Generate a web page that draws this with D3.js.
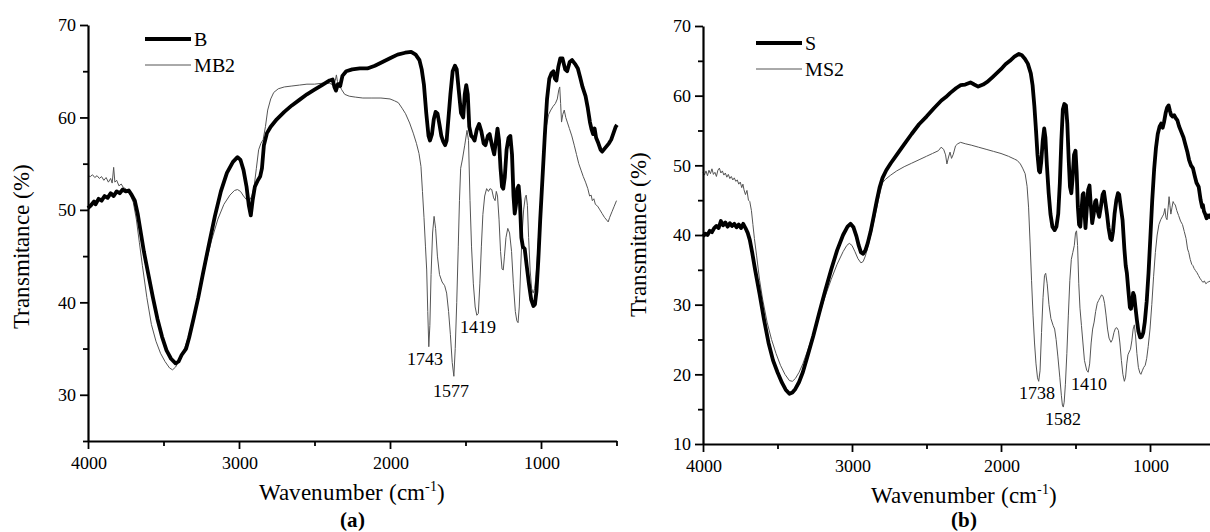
<!DOCTYPE html>
<html>
<head>
<meta charset="utf-8">
<script src="https://cdn.jsdelivr.net/npm/d3@7"></script>
<style>
  body { margin: 0; background: #fff; }
  @font-face { font-family: 'PlotSerif'; src: local('Liberation Serif'), local('LiberationSerif-Regular'), local('LiberationSerif'); }
  @font-face { font-family: 'PlotSerif'; font-weight: bold; src: local('Liberation Serif Bold'), local('LiberationSerif-Bold'); }
</style>
</head>
<body>
<div class="chart"></div>
<script>

// ---- data: [wavenumber (cm-1), transmittance (%)] ----

const seriesB = [
[4000,50.2],[3980,50.5],[3960,50.9],[3950,50.6],[3930,51.2],[3910,51.0],[3890,51.5],[3870,51.3],[3850,51.8],[3830,51.5],
[3810,52.0],[3790,51.8],[3770,52.2],[3750,52.0],[3730,52.1],[3710,51.6],[3690,51.0],[3670,49.5],[3650,47.5],[3630,45.5],
[3600,43.0],[3570,40.5],[3540,38.2],[3510,36.3],[3480,34.8],[3450,33.9],[3420,33.4],[3400,33.6],[3380,34.3],[3350,35.0],
[3330,36.2],[3300,38.3],[3270,40.5],[3240,43.0],[3200,46.2],[3160,49.3],[3120,52.0],[3080,54.0],[3040,55.2],[3010,55.7],
[2990,55.4],[2970,54.3],[2950,52.5],[2935,50.5],[2922,49.4],[2910,51.0],[2895,52.5],[2875,53.2],[2860,53.6],[2848,54.5],
[2835,57.0],[2815,58.3],[2790,59.0],[2750,59.8],[2700,60.6],[2650,61.3],[2600,61.9],[2550,62.5],[2500,63.0],[2450,63.5],
[2400,64.0],[2380,64.1],[2368,63.3],[2358,62.9],[2345,63.6],[2330,63.4],[2315,64.5],[2290,65.0],[2250,65.2],[2200,65.3],
[2150,65.3],[2100,65.6],[2050,66.0],[2000,66.4],[1950,66.8],[1900,67.0],[1860,67.1],[1830,66.8],[1805,66.2],[1790,65.2],
[1775,63.5],[1760,60.5],[1745,58.0],[1735,57.5],[1722,58.2],[1710,59.8],[1698,60.6],[1685,60.4],[1672,59.2],[1660,58.0],
[1648,57.4],[1635,57.0],[1625,57.5],[1615,59.5],[1600,62.5],[1585,65.0],[1570,65.6],[1558,65.2],[1545,63.0],[1530,60.5],
[1515,60.0],[1505,62.5],[1495,63.5],[1485,62.5],[1475,59.0],[1462,58.0],[1450,57.8],[1440,57.5],[1425,58.7],[1410,59.3],
[1395,58.5],[1380,57.2],[1368,57.0],[1352,58.0],[1340,58.2],[1325,57.0],[1310,56.0],[1298,57.5],[1288,58.8],[1278,57.5],
[1268,54.5],[1258,52.5],[1250,52.3],[1240,53.5],[1228,56.5],[1215,57.8],[1203,58.0],[1192,56.0],[1182,51.5],[1174,49.6],
[1166,50.5],[1157,52.3],[1148,52.6],[1140,51.0],[1130,47.0],[1120,46.0],[1108,45.8],[1095,44.0],[1080,42.0],[1065,40.3],
[1050,39.6],[1040,39.8],[1030,41.2],[1018,44.5],[1005,49.0],[990,53.5],[975,58.0],[960,62.0],[945,64.2],[930,64.8],
[918,65.0],[908,64.2],[898,64.0],[885,65.5],[872,66.4],[858,66.4],[840,65.2],[827,65.0],[810,66.0],[794,66.2],
[775,65.8],[756,65.3],[740,64.3],[725,63.3],[705,62.3],[690,61.0],[676,59.5],[665,58.7],[655,58.2],[645,58.8],
[635,57.8],[620,57.2],[605,56.5],[595,56.3],[580,56.6],[565,56.9],[550,57.2],[535,57.6],[520,58.3],[505,59.0],[497,59.2]
]

const seriesMB2 = [
[4000,53.7],[3985,53.6],[3970,53.8],[3955,53.5],[3940,53.7],[3925,53.4],[3910,53.6],[3895,53.2],[3880,53.5],[3865,53.0],
[3850,53.4],[3840,52.9],[3830,54.6],[3822,53.0],[3810,53.2],[3795,52.6],[3780,52.8],[3765,52.4],[3750,52.3],[3735,52.0],
[3720,51.6],[3700,50.8],[3680,49.0],[3660,46.5],[3640,44.0],[3610,40.5],[3580,37.6],[3550,35.8],[3520,34.5],[3490,33.6],
[3460,32.9],[3440,32.7],[3420,33.0],[3400,33.6],[3370,34.6],[3340,36.0],[3300,38.5],[3260,41.3],[3220,44.2],[3180,46.8],
[3140,49.0],[3100,50.6],[3060,51.6],[3030,52.1],[3010,52.2],[2990,52.0],[2970,51.5],[2950,51.1],[2935,50.9],[2915,51.5],
[2900,52.5],[2885,54.5],[2870,56.5],[2855,57.2],[2840,57.6],[2825,59.0],[2810,60.8],[2790,62.0],[2770,62.7],[2740,63.1],
[2700,63.3],[2650,63.4],[2600,63.5],[2550,63.6],[2500,63.6],[2450,63.7],[2400,63.7],[2375,63.5],[2362,64.0],[2355,64.6],
[2348,63.9],[2338,63.6],[2320,63.0],[2300,62.5],[2270,62.3],[2230,62.2],[2180,62.1],[2120,62.1],[2060,62.1],[2000,62.0],
[1970,61.8],[1945,61.6],[1920,61.0],[1897,60.4],[1870,59.4],[1846,58.3],[1825,57.2],[1808,56.1],[1795,54.7],[1785,52.0],
[1775,49.2],[1765,46.0],[1757,43.5],[1750,39.0],[1743,35.2],[1736,37.5],[1728,43.0],[1718,47.5],[1708,49.3],[1698,48.0],
[1686,45.0],[1672,43.0],[1655,42.2],[1638,41.8],[1625,41.0],[1612,39.0],[1600,36.5],[1588,33.5],[1577,32.0],[1568,35.0],
[1558,40.0],[1548,46.0],[1540,51.0],[1532,54.5],[1520,55.5],[1505,57.0],[1490,58.6],[1480,57.5],[1470,51.0],[1460,46.0],
[1448,42.0],[1436,39.5],[1425,38.6],[1415,38.8],[1405,42.0],[1395,46.0],[1385,49.5],[1373,51.5],[1360,52.3],[1348,52.0],
[1338,52.3],[1326,52.2],[1314,51.3],[1304,51.0],[1296,52.0],[1288,51.5],[1278,49.0],[1268,45.5],[1258,43.6],[1250,43.5],
[1242,45.0],[1232,47.0],[1220,48.0],[1208,47.5],[1195,45.5],[1183,42.0],[1170,39.0],[1160,38.0],[1152,37.8],[1144,39.5],
[1135,43.5],[1125,47.5],[1115,50.0],[1105,51.3],[1098,51.6],[1090,50.5],[1082,47.0],[1072,43.5],[1062,41.5],[1052,41.0],
[1042,41.5],[1032,43.0],[1020,46.0],[1008,49.5],[995,53.0],[980,56.5],[965,59.0],[950,60.3],[935,60.8],[920,61.2],
[905,61.5],[892,62.0],[882,63.0],[876,63.3],[870,61.5],[864,59.5],[856,60.3],[846,60.8],[836,60.0],[826,59.5],
[812,58.8],[796,58.0],[780,57.0],[765,56.0],[750,55.0],[735,54.3],[720,53.6],[705,53.0],[690,52.3],[678,51.5],
[668,51.6],[660,51.0],[650,51.2],[640,50.6],[625,50.4],[610,50.0],[595,49.6],[580,49.2],[565,48.9],[555,48.7],
[545,49.2],[530,49.8],[515,50.4],[500,51.0]
]

const seriesS = [
[4000,39.8],[3985,40.2],[3970,40.0],[3955,40.6],[3940,40.4],[3925,41.0],[3910,41.3],[3895,41.0],[3880,42.0],[3865,41.4],
[3850,41.8],[3835,41.2],[3820,41.7],[3805,41.3],[3790,41.6],[3775,41.1],[3760,41.5],[3745,41.0],[3730,41.6],[3715,41.0],
[3700,40.3],[3686,39.3],[3670,37.5],[3650,35.0],[3620,31.5],[3590,27.8],[3560,24.5],[3530,22.0],[3500,20.3],[3470,18.8],
[3445,17.8],[3420,17.2],[3400,17.4],[3380,17.9],[3355,18.9],[3330,20.3],[3300,22.5],[3260,25.5],[3220,28.8],[3180,32.0],
[3140,35.0],[3100,37.8],[3060,40.0],[3030,41.2],[3010,41.6],[2990,41.1],[2970,39.8],[2955,38.5],[2940,37.5],[2925,37.3],
[2910,37.8],[2895,38.8],[2875,40.5],[2855,42.6],[2835,44.8],[2815,46.8],[2795,48.2],[2770,49.3],[2740,50.3],[2700,51.5],
[2650,53.0],[2600,54.5],[2550,55.9],[2500,57.0],[2450,58.2],[2400,59.3],[2370,59.8],[2340,60.4],[2300,61.1],[2270,61.5],
[2240,61.6],[2205,61.9],[2180,61.6],[2153,61.3],[2120,61.6],[2090,62.0],[2060,62.6],[2030,63.2],[2000,63.8],[1970,64.5],
[1940,65.0],[1910,65.6],[1880,66.0],[1860,65.8],[1840,65.3],[1820,64.6],[1800,63.2],[1788,61.5],[1776,58.5],[1765,55.0],
[1755,51.5],[1745,49.2],[1738,49.0],[1730,50.5],[1720,53.5],[1710,55.3],[1702,54.0],[1692,50.0],[1680,46.0],[1668,43.0],
[1655,41.2],[1640,40.7],[1628,41.2],[1616,43.0],[1605,47.5],[1595,53.5],[1585,58.0],[1575,58.8],[1564,58.6],[1555,56.0],
[1545,50.5],[1537,46.9],[1528,46.0],[1520,48.0],[1510,51.5],[1500,52.1],[1492,49.0],[1484,44.0],[1476,41.5],[1468,41.2],
[1460,43.5],[1452,45.8],[1446,46.0],[1440,43.5],[1433,41.0],[1425,43.5],[1415,46.5],[1406,47.1],[1398,44.5],[1388,41.7],
[1378,43.0],[1368,44.8],[1362,45.0],[1352,43.5],[1341,42.6],[1330,44.0],[1318,45.8],[1309,46.2],[1298,44.5],[1288,42.9],
[1278,41.0],[1266,39.5],[1257,39.3],[1248,40.5],[1238,43.0],[1226,45.0],[1215,46.0],[1207,45.8],[1196,44.0],[1184,42.1],
[1172,38.0],[1163,35.6],[1155,34.5],[1145,32.0],[1135,29.6],[1128,29.4],[1120,30.3],[1113,31.7],[1106,31.3],[1097,29.5],
[1088,27.8],[1078,26.2],[1066,25.3],[1055,25.4],[1045,26.0],[1035,27.5],[1022,30.5],[1010,34.5],[998,39.5],[985,45.0],
[972,49.5],[960,52.5],[948,54.5],[935,55.6],[925,56.0],[915,55.4],[905,56.3],[895,57.5],[885,58.3],[875,58.6],
[866,57.8],[858,57.2],[848,57.0],[838,57.2],[828,56.8],[817,56.5],[805,55.6],[790,54.8],[775,54.0],[764,53.1],
[750,52.0],[738,50.8],[725,50.0],[712,49.6],[700,48.5],[688,47.5],[673,46.9],[660,45.0],[650,44.0],[645,44.3],
[638,43.4],[628,42.9],[620,42.4],[610,42.8],[600,42.6],[590,43.0]
]

const seriesMS2 = [
[4000,49.0],[3990,48.6],[3980,49.2],[3970,48.5],[3960,49.3],[3950,48.8],[3940,49.5],[3930,48.7],[3920,49.0],[3910,48.4],
[3900,49.3],[3890,49.6],[3880,48.9],[3870,49.2],[3860,48.6],[3850,48.9],[3840,48.3],[3830,48.7],[3820,48.1],[3810,48.4],
[3800,47.9],[3790,48.2],[3780,47.7],[3770,47.9],[3760,47.3],[3750,47.6],[3740,46.8],[3732,47.3],[3725,46.5],[3715,45.8],
[3705,46.4],[3695,45.0],[3686,44.8],[3675,43.5],[3665,41.5],[3655,39.5],[3640,37.0],[3620,33.5],[3600,30.8],[3570,27.5],
[3540,25.0],[3510,23.0],[3480,21.3],[3450,20.0],[3420,19.1],[3400,19.0],[3380,19.4],[3355,20.3],[3330,21.5],[3300,23.3],
[3260,25.8],[3220,28.5],[3180,31.2],[3140,33.6],[3100,35.8],[3060,37.6],[3035,38.5],[3018,38.8],[3000,38.5],[2980,37.6],
[2960,36.6],[2940,36.0],[2925,36.2],[2910,37.0],[2890,38.6],[2865,40.8],[2840,43.3],[2815,45.8],[2795,47.5],[2775,48.0],
[2740,48.6],[2700,49.2],[2650,49.8],[2600,50.3],[2550,50.8],[2500,51.3],[2460,51.7],[2420,52.1],[2402,52.6],[2385,52.3],
[2372,51.5],[2363,50.2],[2352,51.2],[2342,51.9],[2332,51.0],[2320,51.6],[2305,52.8],[2290,53.1],[2271,53.3],[2240,53.1],
[2200,52.9],[2150,52.6],[2100,52.3],[2050,52.0],[2000,51.7],[1950,51.3],[1910,50.9],[1891,50.7],[1870,50.2],[1855,49.6],
[1838,48.8],[1825,47.0],[1815,44.0],[1805,39.0],[1795,33.5],[1785,28.5],[1775,24.5],[1765,21.5],[1755,19.5],[1747,19.0],
[1738,20.5],[1728,26.0],[1718,31.0],[1708,34.2],[1700,34.5],[1690,33.0],[1678,30.0],[1665,28.0],[1650,27.0],[1640,26.5],
[1630,25.0],[1618,22.5],[1605,19.5],[1595,17.0],[1588,15.6],[1582,15.3],[1576,16.0],[1568,18.5],[1558,23.0],[1548,28.5],
[1538,33.5],[1528,36.5],[1518,37.5],[1508,38.5],[1500,40.3],[1493,40.6],[1486,38.5],[1478,33.0],[1470,29.5],[1460,27.0],
[1450,24.5],[1440,22.0],[1425,20.6],[1415,20.3],[1405,21.5],[1395,24.5],[1385,26.5],[1375,27.5],[1365,29.0],[1354,30.2],
[1345,30.6],[1335,31.0],[1325,31.4],[1315,31.2],[1305,30.2],[1295,28.5],[1285,26.5],[1275,25.2],[1262,24.6],[1252,25.0],
[1242,26.0],[1232,26.6],[1223,26.7],[1212,26.3],[1202,24.5],[1192,22.0],[1182,20.0],[1172,19.0],[1164,19.6],[1156,21.5],
[1148,22.8],[1140,23.2],[1131,23.6],[1122,24.8],[1113,26.5],[1105,27.1],[1097,25.5],[1088,23.0],[1078,21.0],[1068,20.2],
[1061,20.0],[1052,20.5],[1042,21.0],[1032,21.3],[1022,22.3],[1012,24.0],[1000,26.5],[988,30.0],[976,34.0],[964,37.5],
[952,40.0],[940,41.5],[928,42.2],[918,42.6],[908,43.0],[900,43.8],[893,42.5],[886,42.2],[878,44.0],[872,45.5],
[866,44.2],[860,43.0],[852,44.0],[845,44.8],[838,44.5],[830,44.3],[820,43.5],[808,42.8],[795,42.0],[782,41.5],
[770,40.5],[758,39.5],[748,38.0],[740,37.5],[730,36.5],[720,35.8],[712,35.6],[704,35.2],[695,34.9],[685,34.6],
[675,34.2],[665,33.8],[655,33.5],[645,33.2],[635,33.4],[625,33.0],[615,33.2],[605,33.3],[595,33.4]
]

const xTicks = [4000, 3000, 2000, 1000]
const xMinor = [3500, 2500, 1500, 500]
const yTicksA = [30, 40, 50, 60, 70]
const yMinorA = [25, 35, 45, 55, 65]
const yTicksB = [10, 20, 30, 40, 50, 60, 70]
const yMinorB = [15, 25, 35, 45, 55, 65]

const legendA = ['B', 'MB2']
const legendB = ['S', 'MS2']

// peak labels: text, wavenumber and transmittance where the label sits
const peaksA = [['1743', 1768, 33.9], ['1577', 1596, 30.4], ['1419', 1417, 37.4]]
const peaksB = [['1738', 1758, 17.3], ['1582', 1584, 13.6], ['1410', 1409, 18.6]]

// ---- layout ----

const width = 1210
const height = 532
const serif = "PlotSerif, 'Liberation Serif', 'Times New Roman', Tinos, 'DejaVu Serif', 'Noto Serif', serif"

const panels = [
  { tag: '(a)', series: [seriesB, seriesMB2], legend: legendA, peaks: peaksA,
    yDomain: [25, 70], yTicks: yTicksA, yMinor: yMinorA,
    left: 88, right: 616.5, top: 25, bottom: 441,
    titleX: 21, titleY: 246, legendX: 145, legendY: 39 },
  { tag: '(b)', series: [seriesS, seriesMS2], legend: legendB, peaks: peaksB,
    yDomain: [10, 70], yTicks: yTicksB, yMinor: yMinorB,
    left: 703, right: 1224.5, top: 26, bottom: 444,
    titleX: 638, titleY: 234, legendX: 756, legendY: 43 }
]

const styles = [
  { stroke: '#000', width: 3.8 },
  { stroke: '#555', width: 1 }
]

const svg = d3.select('.chart')
  .append('svg')
  .attr('width', width)
  .attr('height', height)
  .style('font-family', serif)
  .style('display', 'block')

svg.append('rect')
  .attr('width', width)
  .attr('height', height)
  .attr('fill', '#fff')

panels.forEach(p => {

  const x = d3.scaleLinear().domain([4000, 500]).range([p.left, p.right])
  const y = d3.scaleLinear().domain(p.yDomain).range([p.bottom, p.top])

  const g = svg.append('g')

  const line = d3.line()
    .x(d => x(d[0]))
    .y(d => y(d[1]))

  // thin series first, bold on top
  p.series.slice().reverse().forEach((s, i) => {
    const st = styles[p.series.length - 1 - i]
    g.append('path')
      .datum(s)
      .attr('d', line)
      .attr('fill', 'none')
      .attr('stroke', st.stroke)
      .attr('stroke-width', st.width)
      .attr('stroke-linejoin', 'round')
  })

  // axes
  g.append('g')
    .attr('transform', `translate(0,${p.bottom})`)
    .call(d3.axisBottom(x).tickValues(xTicks).tickSize(8).tickPadding(7).tickSizeOuter(0).tickFormat(d3.format('d')))

  g.append('g')
    .attr('transform', `translate(0,${p.bottom})`)
    .call(d3.axisBottom(x).tickValues(xMinor).tickSize(5).tickFormat('').tickSizeOuter(0))
    .select('.domain').remove()

  g.append('g')
    .attr('transform', `translate(${p.left},0)`)
    .call(d3.axisLeft(y).tickValues(p.yTicks).tickSize(8).tickPadding(4).tickSizeOuter(0))

  g.append('g')
    .attr('transform', `translate(${p.left},0)`)
    .call(d3.axisLeft(y).tickValues(p.yMinor).tickSize(5).tickFormat('').tickSizeOuter(0))
    .select('.domain').remove()

  g.selectAll('g').attr('font-family', null)
  g.selectAll('.domain').attr('stroke-width', 2.2)
  g.selectAll('.tick line').attr('stroke-width', 1.8)
  g.selectAll('.tick text')
    .attr('font-size', 18)
    .attr('fill', '#000')

  // axis titles
  const cx = (p.left + p.right) / 2
  const xt = g.append('text')
    .attr('x', cx)
    .attr('y', p.bottom + 59)
    .attr('text-anchor', 'middle')
    .attr('font-size', 23)
  xt.append('tspan').text('Wavenumber (cm')
  xt.append('tspan').attr('font-size', 14).attr('dy', -9).text('-1')
  xt.append('tspan').attr('dy', 9).text(')')

  g.append('text')
    .attr('transform', `translate(${p.titleX},${p.titleY}) rotate(-90)`)
    .attr('text-anchor', 'middle')
    .attr('dy', '0.35em')
    .attr('font-size', 23)
    .text('Transmitance (%)')

  g.append('text')
    .attr('x', cx)
    .attr('y', 527)
    .attr('text-anchor', 'middle')
    .attr('font-size', 21)
    .attr('font-weight', 'bold')
    .text(p.tag)

  // legend
  p.legend.forEach((name, i) => {
    const ly = p.legendY + i * 26
    g.append('line')
      .attr('x1', p.legendX).attr('x2', p.legendX + 46)
      .attr('y1', ly).attr('y2', ly)
      .attr('stroke', styles[i].stroke)
      .attr('stroke-width', styles[i].width)
    g.append('text')
      .attr('x', p.legendX + 49)
      .attr('y', ly)
      .attr('dy', '0.35em')
      .attr('font-size', 20)
      .text(name)
  })

  // peak labels
  g.selectAll('.peak')
    .data(p.peaks)
    .enter()
    .append('text')
    .attr('class', 'peak')
    .attr('x', d => x(d[1]))
    .attr('y', d => y(d[2]))
    .attr('dy', '0.35em')
    .attr('text-anchor', 'middle')
    .attr('font-size', 18)
    .text(d => d[0])
})

</script>
</body>
</html>
